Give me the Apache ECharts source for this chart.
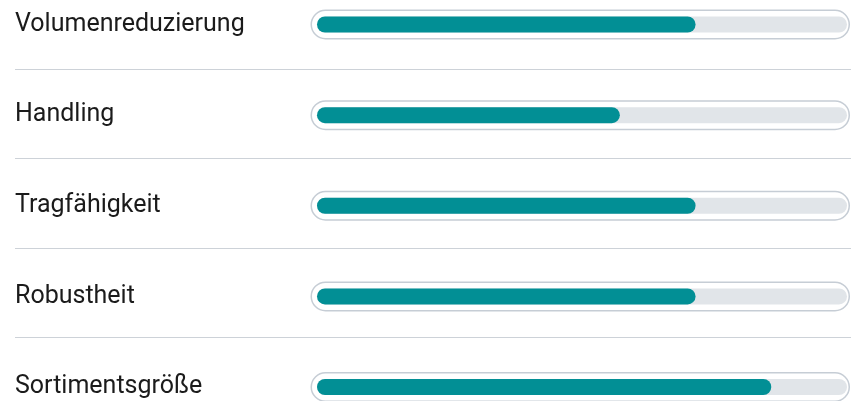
<!DOCTYPE html>
<html lang="de">
<head>
<meta charset="utf-8">
<title>Produktbewertung</title>
<script src="https://cdn.jsdelivr.net/npm/echarts@6/dist/echarts.min.js"></script>
<style>
    html, body {
        margin: 0;
        padding: 0;
        background: #ffffff;
    }

    #ratingChart {
        width: 851px;
        height: 401px;
    }
</style>
</head>
<body>
<div id="ratingChart"></div>
<script>
const categories = [
    "Volumenreduzierung",
    "Handling",
    "Tragfähigkeit",
    "Robustheit",
    "Sortimentsgröße"
];
const ratings = [5, 4, 5, 5, 6];
const scaleMax = 7;
const separatorSteps = [0, 1, 2, 3];

const colors = {
    fill: "#028f95",
    track: "#e1e5e9",
    frame: "#c6cdd5",
    separator: "#cdd2d8",
    text: "#1b1b1b"
};

const fontFamily = "Roboto, 'Noto Sans', sans-serif";

function categoryAxis(gridIndex, extra = {}) {
    return {
        type: "category",
        gridIndex,
        inverse: true,
        boundaryGap: false,
        data: categories,
        axisLine: { show: false },
        axisTick: { show: false },
        splitLine: { show: false },
        axisLabel: { show: false },
        ...extra
    };
}

function hiddenValueAxis(gridIndex, max) {
    return {
        type: "value",
        gridIndex,
        min: 0,
        max,
        show: false
    };
}

const chart = echarts.init(document.getElementById("ratingChart"));

chart.setOption({
    animation: false,
    grid: [
        // outer pill frame and labels
        { left: 310.5, right: 1, top: 24.5, bottom: 14 },
        // track and filled bar
        { left: 317, right: 4, top: 24.5, bottom: 14 },
        // separators between rows
        { left: 15, right: 0, top: 69, bottom: 63.5 }
    ],
    xAxis: [
        hiddenValueAxis(0, scaleMax),
        hiddenValueAxis(1, scaleMax),
        hiddenValueAxis(2, 1)
    ],
    yAxis: [
        categoryAxis(0, {
            axisLabel: {
                show: true,
                align: "left",
                margin: 295.5,
                color: colors.text,
                fontFamily,
                fontSize: 25,
                padding: [0, 0, 1, 0]
            }
        }),
        categoryAxis(1),
        {
            type: "value",
            gridIndex: 2,
            min: 0,
            max: separatorSteps.length - 1,
            interval: 1,
            inverse: true,
            axisLine: { show: false },
            axisTick: { show: false },
            axisLabel: { show: false },
            splitLine: {
                show: true,
                lineStyle: {
                    color: colors.separator,
                    width: 1.2
                }
            }
        }
    ],
    series: [
        {
            name: "Rahmen",
            type: "bar",
            xAxisIndex: 0,
            yAxisIndex: 0,
            barWidth: 30,
            silent: true,
            z: 1,
            itemStyle: {
                color: "#ffffff",
                borderColor: colors.frame,
                borderWidth: 1.5,
                borderRadius: 15
            },
            data: categories.map(() => scaleMax)
        },
        {
            name: "Bewertung",
            type: "bar",
            xAxisIndex: 1,
            yAxisIndex: 1,
            barWidth: 16,
            z: 5,
            showBackground: true,
            backgroundStyle: {
                color: colors.track,
                borderRadius: 8
            },
            itemStyle: {
                color: colors.fill,
                borderRadius: 8
            },
            data: ratings
        }
    ]
});
</script>
</body>
</html>
